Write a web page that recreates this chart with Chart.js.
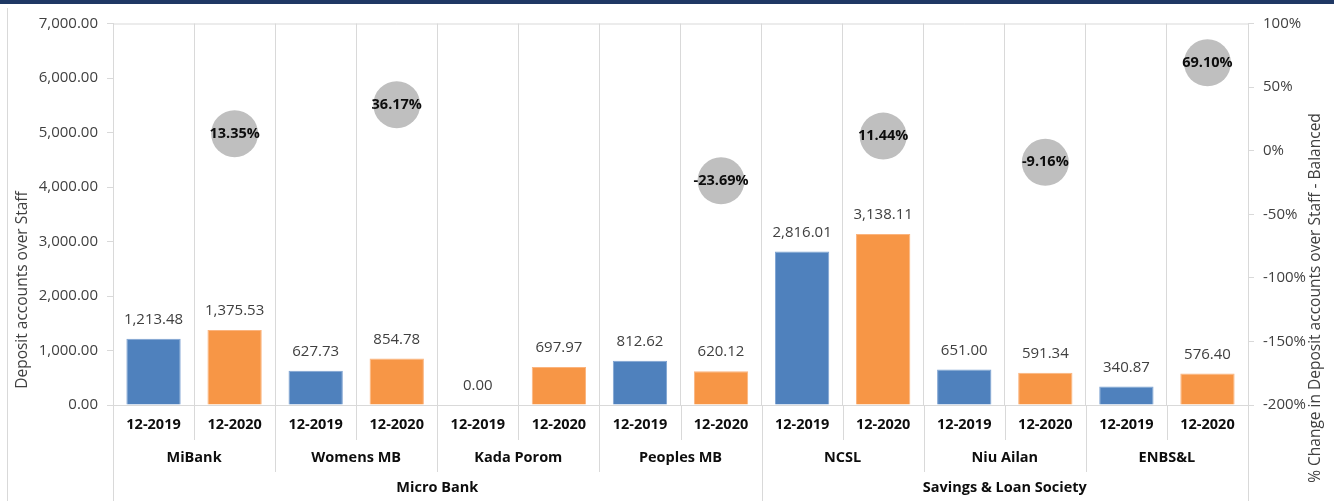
<!DOCTYPE html>
<html>
<head>
<meta charset="utf-8">
<script src="https://cdn.jsdelivr.net/npm/chart.js@4.4.1/dist/chart.umd.min.js"></script>
<style>
  html, body { margin: 0; padding: 0; background: #ffffff; }
  #wrap { width: 1334px; height: 501px; position: relative; }
</style>
</head>
<body>
<div id="wrap"><canvas id="c" width="1334" height="501"></canvas></div>
<script>
// ---- data ----
const periods = ['12-2019', '12-2020'];
const institutions = ['MiBank', 'Womens MB', 'Kada Porom', 'Peoples MB', 'NCSL', 'Niu Ailan', 'ENBS&L'];
const groups = ['Micro Bank', 'Savings & Loan Society'];
const groupSizes = [4, 3];
const deposit2019 = [1213.48, 627.73, 0.00, 812.62, 2816.01, 651.00, 340.87];
const deposit2020 = [1375.53, 854.78, 697.97, 620.12, 3138.11, 591.34, 576.40];
const pctChange = [13.35, 36.17, null, -23.69, 11.44, -9.16, 69.10];
const leftTitle = 'Deposit accounts over Staff';
const rightTitle = '% Change in Deposit accounts over Staff - Balanced';

// ---- derived structures for the library ----
const labels = [];
const blueData = [], orangeData = [], bubbleData = [];
institutions.forEach((inst, i) => {
  labels.push(periods[0]); labels.push(periods[1]);
  blueData.push(deposit2019[i]); blueData.push(null);
  orangeData.push(null); orangeData.push(deposit2020[i]);
  bubbleData.push(null); bubbleData.push(pctChange[i]);
});

const FONT = 'Open Sans';
const fmt = v => Number(v).toLocaleString('en-US', {minimumFractionDigits: 2, maximumFractionDigits: 2});
const GRID = '#D9D9D9';
const TEXT = '#404040';

const overlay = {
  id: 'overlay',
  afterDraw(chart) {
    const ctx = chart.ctx;
    const ca = chart.chartArea;
    const x = chart.scales.x;
    const n = labels.length;
    const cw = (ca.right - ca.left) / n;
    ctx.save();

    // navy top bar & left frame line
    ctx.fillStyle = '#1F3864';
    ctx.fillRect(0, 0, 1334, 4);
    ctx.strokeStyle = GRID; ctx.lineWidth = 1;
    ctx.beginPath(); ctx.moveTo(7.5, 8); ctx.lineTo(7.5, 501); ctx.stroke();

    // plot top border
    ctx.beginPath(); ctx.moveTo(ca.left, ca.top + 0.5); ctx.lineTo(ca.right, ca.top + 0.5); ctx.stroke();

    // data labels on bars
    ctx.font = '15px "' + FONT + '"';
    ctx.fillStyle = TEXT;
    ctx.textAlign = 'center'; ctx.textBaseline = 'middle';
    [0, 1].forEach(di => {
      const meta = chart.getDatasetMeta(di);
      meta.data.forEach((el, idx) => {
        const v = chart.data.datasets[di].data[idx];
        if (v === null || v === undefined) return;
        ctx.fillText(fmt(v), el.x, el.y - 19);
      });
    });

    // bubble labels
    const bm = chart.getDatasetMeta(2);
    ctx.font = 'bold 14.5px "' + FONT + '"';
    ctx.fillStyle = '#0D0D0D';
    bm.data.forEach((el, idx) => {
      const v = bubbleData[idx];
      if (v === null || v === undefined) return;
      ctx.fillText(v.toFixed(2) + '%', el.x, el.y);
    });

    // multi-level category axis
    const base = ca.bottom;
    ctx.strokeStyle = GRID;
    const groupBounds = [0];
    let acc = 0;
    groupSizes.forEach(s => { acc += s * 2; groupBounds.push(acc); });
    for (let k = 0; k <= n; k++) {
      const px = Math.round(ca.left + k * cw) + 0.5;
      let end;
      if (groupBounds.includes(k)) end = 501;
      else if (k % 2 === 0) end = 472;
      else end = 440;
      ctx.beginPath(); ctx.moveTo(px, base); ctx.lineTo(px, end); ctx.stroke();
    }
    ctx.fillStyle = '#0D0D0D';
    ctx.font = 'bold 14.5px "' + FONT + '"';
    labels.forEach((lab, i) => {
      ctx.fillText(lab, x.getPixelForValue(i), 425);
    });
    institutions.forEach((inst, i) => {
      const cx = (x.getPixelForValue(2 * i) + x.getPixelForValue(2 * i + 1)) / 2;
      ctx.fillText(inst, cx, 458);
    });
    let start = 0;
    groups.forEach((g, gi) => {
      const s = start * 2, e = (start + groupSizes[gi]) * 2;
      const cx = ca.left + ((s + e) / 2) * cw;
      ctx.fillText(g, cx, 488);
      start += groupSizes[gi];
    });

    // axis titles
    ctx.font = '15.5px "' + FONT + '"';
    ctx.fillStyle = TEXT;
    ctx.save();
    ctx.translate(23, 290); ctx.rotate(-Math.PI / 2);
    ctx.fillText(leftTitle, 0, 0);
    ctx.restore();
    ctx.save();
    ctx.translate(1316, 298); ctx.rotate(-Math.PI / 2);
    ctx.fillText(rightTitle, 0, 0);
    ctx.restore();

    ctx.restore();
  }
};

new Chart(document.getElementById('c'), {
  data: {
    labels: labels,
    datasets: [
      { type: 'bar', label: '12-2019', data: blueData, backgroundColor: '#4F81BD', borderColor: '#7EA3D2', borderWidth: 1,
        grouped: false, barPercentage: 0.67, categoryPercentage: 1, yAxisID: 'y', order: 2 },
      { type: 'bar', label: '12-2020', data: orangeData, backgroundColor: '#F79646', borderColor: '#FBB47E', borderWidth: 1,
        grouped: false, barPercentage: 0.67, categoryPercentage: 1, yAxisID: 'y', order: 2 },
      { type: 'line', label: '% Change', data: bubbleData, showLine: false, yAxisID: 'y2',
        pointRadius: 23.5, pointHoverRadius: 23.5, pointBackgroundColor: '#BFBFBF', pointBorderWidth: 0,
        pointBorderColor: '#BFBFBF', order: 1, clip: false }
    ]
  },
  options: {
    responsive: false,
    animation: false,
    devicePixelRatio: 1,
    layout: { padding: { top: 23, left: 0, right: 0, bottom: 0 } },
    plugins: { legend: { display: false }, tooltip: { enabled: false } },
    scales: {
      x: {
        type: 'category', offset: true,
        grid: { offset: true, color: GRID, drawTicks: false, lineWidth: 1 },
        border: { color: GRID },
        ticks: { display: false },
        afterFit(s) { s.height = 96; }
      },
      y: {
        position: 'left', min: 0, max: 7000,
        ticks: { stepSize: 1000, callback: v => fmt(v), color: TEXT, font: { family: FONT, size: 15 }, padding: 9 },
        grid: { drawOnChartArea: false, drawTicks: true, tickLength: 6, color: GRID },
        border: { color: GRID },
        afterFit(s) { s.width = 113; }
      },
      y2: {
        position: 'right', min: -200, max: 100,
        ticks: { stepSize: 50, callback: v => v + '%', color: TEXT, font: { family: FONT, size: 15 }, padding: 9 },
        grid: { drawOnChartArea: false, drawTicks: true, tickLength: 6, color: GRID },
        border: { color: GRID },
        afterFit(s) { s.width = 86; }
      }
    }
  },
  plugins: [overlay]
});
</script>
</body>
</html>
